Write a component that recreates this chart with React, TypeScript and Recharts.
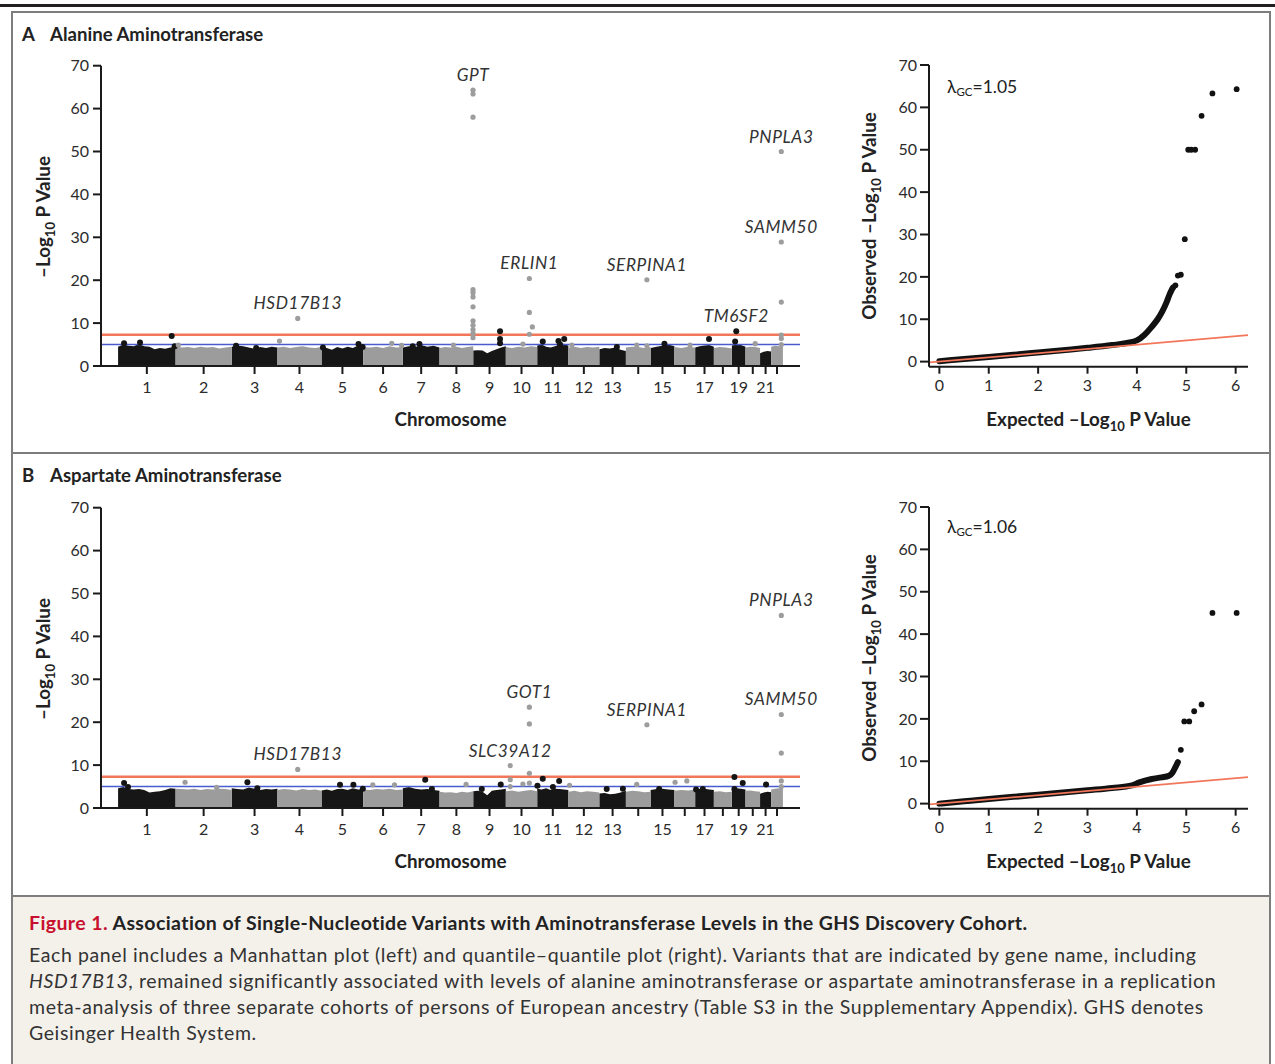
import React from 'react';
import { ComposedChart, Area, Scatter, Line, XAxis, YAxis, ReferenceLine, Label } from 'recharts';

const FONT = 'Lato, "Open Sans", sans-serif';

// chromosome sizes (Mb) and x-axis tick labels
const CHR_LENGTHS_MB = [249, 243, 198, 191, 181, 171, 159, 146, 141, 136, 135, 134, 115, 107, 103, 90, 81, 78, 59, 63, 48, 51];
const CHR_TICK_LABELS = ['1', '2', '3', '4', '5', '6', '7', '8', '9', '10', '11', '12', '13', '', '15', '', '17', '', '19', '', '21', ''];
const Y_TICKS = [0, 10, 20, 30, 40, 50, 60, 70];
const QQ_X_TICKS = [0, 1, 2, 3, 4, 5, 6];

// bulk of sub-threshold variants: approximate upper edge of each chromosome's cloud (-log10 P)
const massA = [
  [4.5, 5.0, 4.7, 4.6, 5.1, 4.6, 4.5, 3.9, 4.2, 4.0, 4.3, 4.6],
  [4.6, 4.3, 4.4, 4.2, 4.5, 4.3, 4.4, 4.1, 4.3, 4.5],
  [4.5, 4.8, 4.6, 4.3, 4.0, 4.4, 4.2, 4.5, 4.3],
  [4.3, 4.5, 4.2, 4.4, 4.6, 4.3, 4.2, 4.4],
  [4.6, 4.2, 3.8, 4.4, 4.1, 4.5, 4.2, 4.8, 4.6],
  [4.4, 4.3, 4.5, 4.2, 4.6, 4.3, 4.4],
  [4.3, 4.6, 4.4, 4.9, 4.5, 4.7, 4.3],
  [4.2, 4.4, 4.3, 4.5, 4.2, 4.4, 4.6],
  [3.6, 3.7, 3.6, 3.0, 3.5, 3.9, 4.3, 4.6],
  [4.4, 4.2, 4.5, 4.3, 4.6, 4.4],
  [4.8, 5.0, 4.5, 4.3, 4.6, 5.0, 5.2, 4.7],
  [4.3, 4.5, 4.2, 4.4, 4.3, 4.5],
  [3.9, 4.2, 4.1, 4.3, 3.8, 3.5],
  [4.3, 4.5, 4.4, 4.2, 4.4],
  [4.2, 4.5, 4.7, 5.0, 4.6],
  [4.4, 4.2, 4.5, 4.3],
  [4.3, 4.6, 4.8, 4.9, 4.5],
  [4.2, 4.4, 4.3, 4.1],
  [4.8, 5.0, 4.9, 4.5],
  [4.3, 4.5, 4.4, 4.2],
  [3.0, 3.3, 3.5, 3.4],
  [4.5, 4.7, 4.6, 4.4],
];

const massB = [
  [4.6, 4.9, 4.4, 4.3, 4.4, 4.2, 3.6, 3.8, 3.9, 4.2, 4.6, 4.5],
  [4.5, 4.4, 4.3, 4.5, 4.2, 4.4, 4.3, 4.5, 4.4, 4.2],
  [4.6, 4.4, 4.3, 4.8, 4.5, 4.2, 4.4, 4.3, 4.5],
  [4.2, 4.4, 4.3, 4.1, 4.4, 4.2, 4.3, 4.0],
  [4.1, 4.3, 4.0, 4.4, 4.5, 4.2, 4.6, 4.3, 4.4],
  [4.3, 4.2, 4.4, 4.3, 4.5, 4.2, 4.3],
  [4.6, 4.9, 4.5, 4.3, 4.4, 4.2, 4.0],
  [3.8, 3.6, 3.7, 3.5, 3.8, 3.6, 3.9],
  [3.9, 4.0, 3.8, 3.0, 4.0, 4.2, 4.3, 4.5],
  [3.9, 4.1, 3.8, 4.0, 4.2, 3.9],
  [4.5, 4.3, 4.6, 4.2, 4.5, 4.4, 4.3, 4.2],
  [3.8, 4.0, 3.7, 3.9, 3.8, 3.6],
  [3.4, 3.5, 3.2, 3.3, 3.6, 4.0],
  [3.8, 4.0, 3.9, 3.7, 3.8],
  [4.2, 4.4, 4.5, 4.3, 4.2],
  [4.0, 4.2, 4.1, 4.3],
  [4.3, 4.4, 4.5, 4.3, 4.2],
  [3.8, 3.9, 3.7, 3.8],
  [4.4, 4.6, 4.5, 4.3],
  [4.0, 4.1, 3.9, 3.8],
  [3.3, 3.6, 3.8, 3.7],
  [4.3, 4.5, 4.6, 4.4],
];

// individual variants above the cloud: [chromosome, position Mb, -log10 P]
const pointsA = [
  [1, 26, 5.3], [1, 95, 5.5], [1, 232, 7.0], [1, 245, 4.6],
  [2, 12, 4.9],
  [3, 19, 4.7], [3, 106, 4.2],
  [4, 9, 5.8], [4, 88, 11.1],
  [5, 6, 4.3], [5, 160, 5.1], [5, 178, 4.4],
  [6, 123, 5.3], [6, 166, 4.8],
  [7, 43, 4.6], [7, 72, 5.1],
  [8, 60, 4.9], [8, 145, 64.3], [8, 145, 63.4], [8, 145, 58.0], [8, 145, 17.8], [8, 145, 17.1], [8, 145, 16.1],
  [8, 145, 13.8], [8, 145, 10.5], [8, 145, 9.5], [8, 145, 8.5], [8, 145, 7.6], [8, 145, 6.6],
  [9, 116, 8.1], [9, 116, 6.3], [9, 116, 5.3],
  [10, 102, 20.4], [10, 102, 12.5], [10, 115, 9.1], [10, 102, 7.4], [10, 74, 5.1],
  [11, 24, 5.7], [11, 92, 5.8], [11, 117, 6.3], [11, 99, 5.0],
  [12, 15, 4.9],
  [13, 76, 4.4],
  [14, 47, 4.9], [14, 91, 20.1], [14, 91, 4.7],
  [15, 60, 5.2],
  [16, 68, 4.9],
  [17, 60, 6.3],
  [19, 19, 8.1], [19, 14, 5.7],
  [20, 42, 5.2],
  [22, 44, 50.0], [22, 44, 28.9], [22, 44, 14.9], [22, 44, 7.2], [22, 44, 6.4], [22, 44, 5.0],
];

const pointsB = [
  [1, 26, 5.8], [1, 43, 4.9],
  [2, 41, 6.0], [2, 178, 4.8],
  [3, 68, 6.0], [3, 111, 4.6],
  [4, 88, 9.0],
  [5, 80, 5.4], [5, 138, 5.4], [5, 179, 4.5],
  [6, 41, 5.4], [6, 135, 5.4],
  [7, 97, 6.6], [7, 126, 4.4],
  [8, 115, 5.5],
  [9, 37, 4.4], [9, 119, 5.5],
  [10, 19, 9.9], [10, 19, 6.6], [10, 19, 5.0], [10, 74, 5.6],
  [10, 102, 23.5], [10, 102, 19.6], [10, 102, 8.1], [10, 102, 5.8],
  [11, 1, 5.2], [11, 24, 6.8], [11, 68, 4.9], [11, 95, 6.3],
  [12, 5, 5.3],
  [13, 32, 4.4], [13, 102, 4.5],
  [14, 47, 5.5], [14, 91, 19.4],
  [15, 37, 4.4],
  [16, 3, 6.0], [16, 54, 6.3],
  [17, 4, 4.3], [17, 33, 4.4],
  [19, 11, 7.2], [19, 47, 5.8], [19, 11, 4.4],
  [21, 26, 5.5],
  [22, 44, 44.9], [22, 44, 21.8], [22, 44, 12.8], [22, 44, 6.3], [22, 44, 5.0],
];

// annotated loci: [gene, chromosome, position Mb, -log10 P of top variant]
const genesA: [string, number, number, number][] = [
  ['HSD17B13', 4, 88, 11.1], ['GPT', 8, 145, 64.3], ['ERLIN1', 10, 102, 20.4], ['SERPINA1', 14, 91, 20.1],
  ['TM6SF2', 19, 19, 8.1], ['PNPLA3', 22, 44, 50.0], ['SAMM50', 22, 44, 28.9],
];
const genesB: [string, number, number, number][] = [
  ['HSD17B13', 4, 88, 9.0], ['SLC39A12', 10, 19, 9.9], ['GOT1', 10, 102, 23.5], ['SERPINA1', 14, 91, 19.4],
  ['PNPLA3', 22, 44, 44.9], ['SAMM50', 22, 44, 21.8],
];

// quantile-quantile: dense band of variants, then the separated top variants
const qqBandA = [
  { e: 0, o: 0.1 }, { e: 0.5, o: 0.6 }, { e: 1, o: 1.1 }, { e: 1.5, o: 1.6 }, { e: 2, o: 2.15 }, { e: 2.5, o: 2.7 },
  { e: 3, o: 3.25 }, { e: 3.5, o: 3.9 }, { e: 3.8, o: 4.4 }, { e: 4.0, o: 5.0 }, { e: 4.15, o: 6.3 }, { e: 4.3, o: 8.2 },
  { e: 4.42, o: 10.0 }, { e: 4.52, o: 12.0 }, { e: 4.6, o: 14.0 }, { e: 4.66, o: 15.8 }, { e: 4.72, o: 17.3 },
];
const qqDotsA = [
  { e: 4.74, o: 17.6 }, { e: 4.78, o: 18.0 }, { e: 4.83, o: 20.3 }, { e: 4.89, o: 20.5 }, { e: 4.97, o: 28.9 },
  { e: 5.04, o: 50.0 }, { e: 5.1, o: 50.0 }, { e: 5.18, o: 50.0 }, { e: 5.31, o: 58.0 }, { e: 5.53, o: 63.3 }, { e: 6.02, o: 64.3 },
];
const qqBandB = [
  { e: 0, o: 0 }, { e: 0.5, o: 0.55 }, { e: 1, o: 1.1 }, { e: 1.5, o: 1.6 }, { e: 2, o: 2.1 }, { e: 2.5, o: 2.6 },
  { e: 3, o: 3.15 }, { e: 3.5, o: 3.7 }, { e: 3.9, o: 4.3 }, { e: 4.05, o: 5.0 }, { e: 4.3, o: 5.8 }, { e: 4.5, o: 6.2 },
  { e: 4.65, o: 6.6 }, { e: 4.72, o: 7.3 }, { e: 4.78, o: 8.6 }, { e: 4.83, o: 9.8 },
];
const qqDotsB = [
  { e: 4.89, o: 12.7 }, { e: 4.96, o: 19.4 }, { e: 5.06, o: 19.4 }, { e: 5.16, o: 21.8 }, { e: 5.31, o: 23.4 },
  { e: 5.53, o: 45.0 }, { e: 6.02, o: 45.0 },
];
const QQ_IDENTITY = [-0.2, 6.25];

const CHR_START = CHR_LENGTHS_MB.map((_, i) => CHR_LENGTHS_MB.slice(0, i).reduce((a, b) => a + b, 0));
const CHR_CENTERS = CHR_LENGTHS_MB.map((len, i) => CHR_START[i] + len / 2);
const GENOME = CHR_LENGTHS_MB.reduce((a, b) => a + b, 0);

function buildMass(env: number[][]) {
  const rows: any[] = [];
  env.forEach((vals, i) => {
    const odd = i % 2 === 0;
    vals.forEach((v, j) => {
      rows.push({
        x: CHR_START[i] + (j / (vals.length - 1)) * CHR_LENGTHS_MB[i],
        odd: odd ? v : null,
        even: odd ? null : v,
      });
    });
  });
  return rows;
}

const toPoints = (rows: number[][]) => rows.map(([chr, mb, p]) => ({ x: CHR_START[chr - 1] + mb, y: p, chr }));
const toGenes = (rows: [string, number, number, number][]) =>
  rows.map(([gene, chr, mb, p]) => ({ x: CHR_START[chr - 1] + mb, y: p, gene }));

const tickStyle = { fill: '#2b2b2b', fontSize: 16, fontFamily: FONT };

const Dot = (props: any) => {
  const odd = props.payload.chr % 2 === 1;
  return <circle cx={props.cx} cy={props.cy} r={odd ? 3 : 2.6} fill={odd ? '#141414' : '#9d9d9d'} />;
};

const GeneText = (props: any) => (
  <text x={props.cx} y={props.cy - 9} textAnchor="middle" fontStyle="italic" fontSize={17.3}
    letterSpacing={0.6} fill="#333" fontFamily={FONT}>
    {props.payload.gene}
  </text>
);

const QQDot = (props: any) => <circle cx={props.cx} cy={props.cy} r={2.9} fill="#111" />;

const LogTitle = ({ x, y, prefix, vertical }: { x: number; y: number; prefix: string; vertical?: boolean }) => (
  <text x={x} y={y} textAnchor="middle" transform={vertical ? `rotate(-90 ${x} ${y})` : undefined}
    fontFamily={FONT} fontWeight={700} fontSize={18.8} fill="#222">
    {prefix}{'\u2013'}Log<tspan fontSize={13} dy={5}>10</tspan><tspan dy={-5}> P Value</tspan>
  </text>
);

function Manhattan({ mass, points, genes, top }: { mass: number[][]; points: number[][]; genes: [string, number, number, number][]; top: number }) {
  const rows = buildMass(mass);
  return (
    <div style={{ position: 'absolute', left: 0, top, width: 820, height: 440 }}>
      <ComposedChart width={820} height={440} data={rows} margin={{ top: 65.7, right: 20, bottom: 0, left: 0 }}>
        <XAxis dataKey="x" type="number" domain={[-74, GENOME + 74]} ticks={CHR_CENTERS} interval={0}
          tickFormatter={(v: number) => CHR_TICK_LABELS[CHR_CENTERS.indexOf(v)] ?? ''}
          height={74} tick={tickStyle} tickSize={8} tickMargin={8}
          axisLine={{ stroke: '#1a1a1a', strokeWidth: 2 }} tickLine={{ stroke: '#1a1a1a', strokeWidth: 2 }}>
          <Label content={() => (
            <text x={450.5} y={425.5} textAnchor="middle" fontFamily={FONT} fontWeight={700} fontSize={18.8} fill="#222">Chromosome</text>
          )} />
        </XAxis>
        <YAxis dataKey="y" type="number" domain={[0, 70]} ticks={Y_TICKS} interval={0} width={101}
          tick={tickStyle} tickSize={8} tickMargin={4}
          axisLine={{ stroke: '#1a1a1a', strokeWidth: 2 }} tickLine={{ stroke: '#1a1a1a', strokeWidth: 2 }}>
          <Label content={() => <LogTitle x={50} y={217} prefix="" vertical />} />
        </YAxis>
        <Area dataKey="odd" type="linear" fill="#161616" fillOpacity={1} stroke="none" isAnimationActive={false} dot={false} activeDot={false} />
        <Area dataKey="even" type="linear" fill="#9c9c9c" fillOpacity={1} stroke="none" isAnimationActive={false} dot={false} activeDot={false} />
        <ReferenceLine y={5} stroke="#4a5bcf" strokeWidth={1.4} />
        <ReferenceLine y={7.3} stroke="#f2775a" strokeWidth={2.6} />
        <Scatter data={toPoints(points)} dataKey="y" shape={Dot} isAnimationActive={false} />
        <Scatter data={toGenes(genes)} dataKey="y" shape={GeneText} isAnimationActive={false} />
      </ComposedChart>
    </div>
  );
}

function QQ({ band, dots, top }: { band: { e: number; o: number }[]; dots: { e: number; o: number }[]; top: number }) {
  return (
    <div style={{ position: 'absolute', left: 840, top, width: 435, height: 440 }}>
      <ComposedChart width={435} height={440} data={band} margin={{ top: 65, right: 27, bottom: 0, left: 0 }}>
        <XAxis dataKey="e" type="number" domain={[-0.21, 6.25]} ticks={QQ_X_TICKS} interval={0}
          height={73.3} tick={tickStyle} tickSize={7} tickMargin={6}
          axisLine={{ stroke: '#1a1a1a', strokeWidth: 2 }} tickLine={{ stroke: '#1a1a1a', strokeWidth: 2 }}>
          <Label content={() => <LogTitle x={248.5} y={426} prefix="Expected " />} />
        </XAxis>
        <YAxis dataKey="o" type="number" domain={[-1.2, 70]} ticks={Y_TICKS} interval={0} width={89}
          tick={tickStyle} tickSize={9} tickMargin={3}
          axisLine={{ stroke: '#1a1a1a', strokeWidth: 2 }} tickLine={{ stroke: '#1a1a1a', strokeWidth: 2 }}>
          <Label content={() => <LogTitle x={36} y={216} prefix="Observed " vertical />} />
        </YAxis>
        <Line dataKey="o" type="monotone" stroke="#111" strokeWidth={6} strokeLinecap="round" dot={false} activeDot={false} isAnimationActive={false} />
        <ReferenceLine segment={[{ x: QQ_IDENTITY[0], y: QQ_IDENTITY[0] }, { x: QQ_IDENTITY[1], y: QQ_IDENTITY[1] }]}
          stroke="#f2775a" strokeWidth={1.8} ifOverflow="visible" />
        <Scatter data={dots} dataKey="o" shape={QQDot} isAnimationActive={false} />
      </ComposedChart>
    </div>
  );
}

const Lambda = ({ top, value }: { top: number; value: string }) => (
  <div style={{ position: 'absolute', left: 947, top, fontFamily: FONT, fontSize: 17.5, color: '#222', lineHeight: '20px', whiteSpace: 'nowrap' }}>
    {'\u03bb'}<sub style={{ fontSize: 11.5, verticalAlign: '-3px' }}>GC</sub>={value}
  </div>
);

const PanelTitle = ({ top, letter, text }: { top: number; letter: string; text: string }) => (
  <div style={{ position: 'absolute', left: 22, top, fontFamily: FONT, fontWeight: 700, fontSize: 18.6, color: '#222', lineHeight: '20px', whiteSpace: 'nowrap' }}>
    <span style={{ display: 'inline-block', width: 28 }}>{letter}</span>{text}
  </div>
);

export default function App() {
  return (
    <div style={{ position: 'absolute', left: 0, top: 0, width: 1275, height: 1064, background: '#fff', overflow: 'hidden', fontFamily: FONT }}>
      <div style={{ position: 'absolute', left: 0, top: 4, width: 1275, height: 2.5, background: '#231f20' }} />
      <div style={{ position: 'absolute', left: 11, top: 11, width: 1260, height: 1100, border: '2px solid #7d7d7d', boxSizing: 'border-box' }} />
      <div style={{ position: 'absolute', left: 13, top: 451.5, width: 1256, height: 2, background: '#7d7d7d' }} />
      <div style={{ position: 'absolute', left: 13, top: 895, width: 1256, height: 200, background: '#f4f1eb', borderTop: '2px solid #7d7d7d' }} />

      <PanelTitle top={24} letter="A" text="Alanine Aminotransferase" />
      <PanelTitle top={465} letter="B" text="Aspartate Aminotransferase" />

      <Manhattan mass={massA} points={pointsA} genes={genesA} top={0} />
      <QQ band={qqBandA} dots={qqDotsA} top={0} />
      <Lambda top={77} value="1.05" />

      <Manhattan mass={massB} points={pointsB} genes={genesB} top={442.3} />
      <QQ band={qqBandB} dots={qqDotsB} top={441.6} />
      <Lambda top={517} value="1.06" />

      <div style={{ position: 'absolute', left: 29, top: 909.5, fontFamily: FONT, fontSize: 19.5, lineHeight: '26px', color: '#333', whiteSpace: 'nowrap' }}>
        <div style={{ fontWeight: 700, color: '#222', marginBottom: 6.3, letterSpacing: 0.4 }}>
          <span style={{ color: '#c8102e' }}>Figure 1.</span> Association of Single-Nucleotide Variants with Aminotransferase Levels in the GHS Discovery Cohort.
        </div>
        <div style={{ letterSpacing: 0.6 }}>
          <div>Each panel includes a Manhattan plot (left) and quantile{'\u2013'}quantile plot (right). Variants that are indicated by gene name, including</div>
          <div><i>HSD17B13</i>, remained significantly associated with levels of alanine aminotransferase or aspartate aminotransferase in a replication</div>
          <div>meta-analysis of three separate cohorts of persons of European ancestry (Table S3 in the Supplementary Appendix). GHS denotes</div>
          <div>Geisinger Health System.</div>
        </div>
      </div>
    </div>
  );
}
